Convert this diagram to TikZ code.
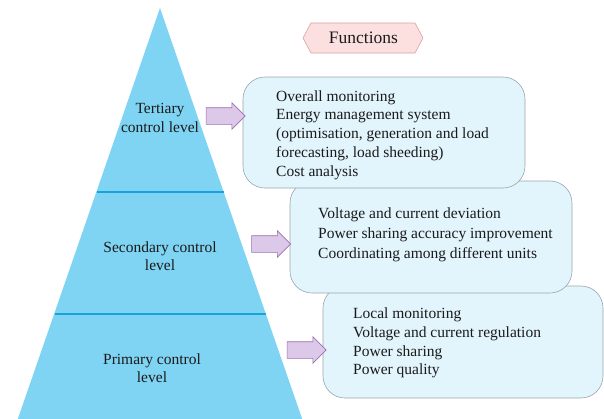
\documentclass[tikz,border=0pt]{standalone}
\usepackage{fontspec}
\setmainfont{Liberation Serif}
\usetikzlibrary{shapes.arrows,shapes.misc}
\definecolor{tri}{HTML}{7FD3F3}
\definecolor{divline}{HTML}{1AA2DA}
\definecolor{boxfill}{HTML}{E2F4FC}
\definecolor{boxdraw}{HTML}{9AA6AE}
\definecolor{arrfill}{HTML}{DCC8E8}
\definecolor{arrdraw}{HTML}{9C6FB0}
\definecolor{hexfill}{HTML}{FCE0E0}
\definecolor{hexdraw}{HTML}{D9A0A0}
\definecolor{txt}{HTML}{1A1A1A}
\tikzset{
  x=1pt, y=-1pt,
  fbox/.style={draw=boxdraw, fill=boxfill, rounded corners=22pt, line width=0.6pt, inner sep=0pt},
  ftext/.style={anchor=west, align=left, inner sep=0pt, text=txt, font=\fontsize{15.5}{18.8}\selectfont},
  ltext/.style={align=center, inner sep=0pt, text=txt, font=\fontsize{15.5}{18.5}\selectfont},
  parrow/.style={single arrow, draw=arrdraw, fill=arrfill, line width=0.6pt, inner sep=8pt,
    minimum height=39pt, single arrow head extend=5pt, anchor=center},
  divider/.style={draw=divline, line width=2.2pt},
}
\begin{document}
\begin{tikzpicture}
\useasboundingbox (0,0) rectangle (604,418);
% pyramid
\fill[tri] (160,8) -- (306,430) -- (14,430) -- cycle;
\coordinate (d1l) at (96.5,192);
\coordinate (d1r) at (223.5,192);
\coordinate (d2l) at (54.5,314);
\coordinate (d2r) at (265.5,314);
\draw[divider] (d1l) -- (d1r);
\draw[divider] (d2l) -- (d2r);
\node[ltext] (tert) at (160,118) {Tertiary\\control level};
\node[ltext] (sec) at (160,256) {Secondary control\\level};
\node[ltext] (prim) at (152,368) {Primary control\\level};
% functions label
\draw[draw=hexdraw, fill=hexfill, line width=0.6pt]
  (303,38) -- (311,23) -- (415,23) -- (423,38) -- (415,53) -- (311,53) -- cycle;
\node[ltext, font=\fontsize{17.5}{20}\selectfont] (func) at (363.5,38) {Functions};
% boxes (drawn bottom first)
\node[fbox, minimum width=280pt, minimum height=112pt] (b3) at (463,342) {};
\node[fbox, minimum width=282pt, minimum height=112pt] (b2) at (431,237) {};
\node[fbox, minimum width=282pt, minimum height=111pt] (b1) at (384,132.5) {};
\node[ftext] (t1) at (276,135) {Overall monitoring\\Energy management system\\(optimisation, generation and load\\forecasting, load sheeding)\\Cost analysis};
\node[ftext, font=\fontsize{15.5}{20}\selectfont] (t2) at (318,235) {Voltage and current deviation\\Power sharing accuracy improvement\\Coordinating among different units};
\node[ftext] (t3) at (353,343) {Local monitoring\\Voltage and current regulation\\Power sharing\\Power quality};
% arrows
\node[parrow] (a1) at (221.5,116) {};
\node[parrow] (a2) at (267,244) {};
\node[parrow] (a3) at (302.5,350) {};
\end{tikzpicture}
\end{document}
